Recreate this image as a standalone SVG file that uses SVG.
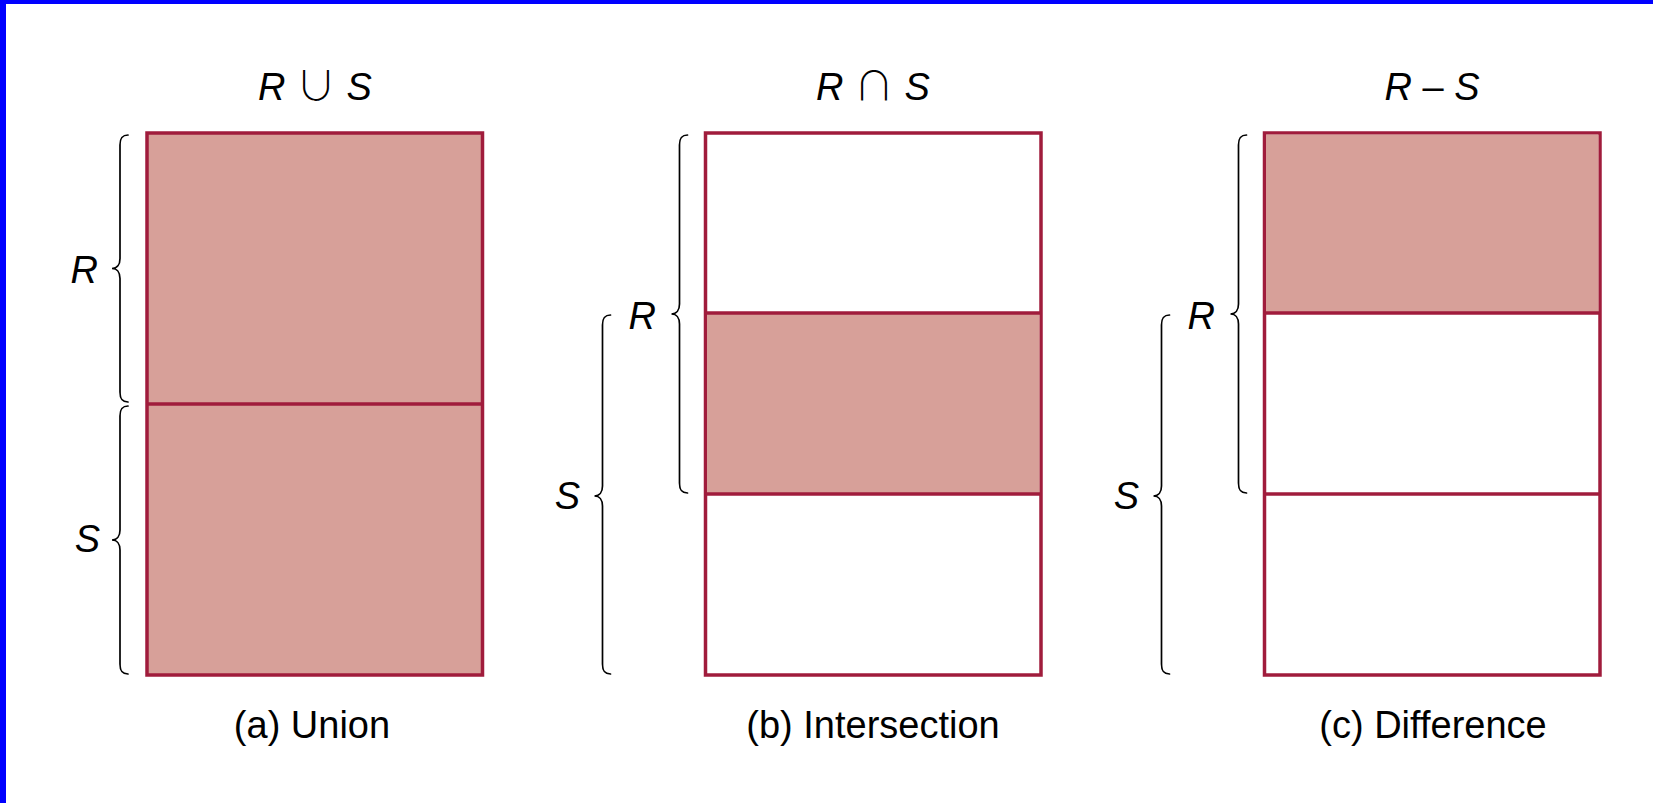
<svg xmlns="http://www.w3.org/2000/svg" width="1653" height="803" viewBox="0 0 1653 803">
<style>
.box{fill:#FFFFFF;stroke:#A01C3C;stroke-width:3.5}
.fill{fill:#D7A099}
.div{stroke:#A01C3C;stroke-width:3.5;fill:none}
.brace{fill:none;stroke:#000;stroke-width:1.7;stroke-linecap:round}
.lab{font-family:"Liberation Sans",Arial,sans-serif;font-size:38px;fill:#000}
.it{font-style:italic}
.op{font-family:"Noto Sans CJK JP","DejaVu Sans",sans-serif;font-size:40px;font-weight:300}
</style>
<rect x="0" y="0" width="1653" height="803" fill="#FFFFFF"/>
<rect x="0" y="0" width="1653" height="4" fill="#0000FF"/>
<rect x="0" y="0" width="6" height="803" fill="#0000FF"/>

<g id="union">
<rect class="box fill" x="147" y="133" width="335.5" height="542" style="fill:#D7A099"/>
<line class="div" x1="147" y1="404" x2="482.5" y2="404"/>
<text class="lab" x="315" y="100" text-anchor="middle"><tspan class="it">R</tspan> <tspan class="op">∪</tspan> <tspan class="it">S</tspan></text>
<text class="lab it" x="98" y="283" text-anchor="end">R</text>
<text class="lab it" x="100" y="552" text-anchor="end">S</text>
<text class="lab" x="312" y="738" text-anchor="middle">(a) Union</text>
</g>

<g id="intersection">
<rect class="box" x="705.5" y="133" width="335.5" height="542"/>
<rect x="707" y="313" width="332.5" height="181" style="fill:#D7A099"/>
<line class="div" x1="705.5" y1="313" x2="1041" y2="313"/>
<line class="div" x1="705.5" y1="494" x2="1041" y2="494"/>
<text class="lab" x="873" y="100" text-anchor="middle"><tspan class="it">R</tspan> <tspan class="op">∩</tspan> <tspan class="it">S</tspan></text>
<text class="lab it" x="656" y="329" text-anchor="end">R</text>
<text class="lab it" x="580" y="509" text-anchor="end">S</text>
<text class="lab" x="873" y="738" text-anchor="middle">(b) Intersection</text>
</g>

<g id="difference">
<rect class="box" x="1264.5" y="133" width="335.5" height="542"/>
<rect x="1266" y="134.5" width="332.5" height="178.5" style="fill:#D7A099"/>
<line class="div" x1="1264.5" y1="313" x2="1600" y2="313"/>
<line class="div" x1="1264.5" y1="494" x2="1600" y2="494"/>
<text class="lab" x="1432" y="100" text-anchor="middle"><tspan class="it">R</tspan> – <tspan class="it">S</tspan></text>
<text class="lab it" x="1215" y="329" text-anchor="end">R</text>
<text class="lab it" x="1139" y="509" text-anchor="end">S</text>
<text class="lab" x="1433" y="738" text-anchor="middle">(c) Difference</text>
</g>

<g id="connectors">
<path class="brace" d="M128,135 C122,135 120,138 120,145 L120,258.5 C120,264.5 117,268.5 112,268.5 C117,268.5 120,272.5 120,278.5 L120,392 C120,399 122,402 128,402"/>
<path class="brace" d="M128,406 C122,406 120,409 120,416 L120,530 C120,536 117,540 112,540 C117,540 120,544 120,550 L120,664 C120,671 122,674 128,674"/>
<path class="brace" d="M687.5,135 C681.5,135 679.5,138 679.5,145 L679.5,304 C679.5,310 676.5,314 671.5,314 C676.5,314 679.5,318 679.5,324 L679.5,483 C679.5,490 681.5,493 687.5,493"/>
<path class="brace" d="M610.5,315 C604.5,315 602.5,318 602.5,325 L602.5,486 C602.5,492 599.5,496 594.5,496 C599.5,496 602.5,500 602.5,506 L602.5,664 C602.5,671 604.5,674 610.5,674"/>
<path class="brace" d="M1246.5,135 C1240.5,135 1238.5,138 1238.5,145 L1238.5,304 C1238.5,310 1235.5,314 1230.5,314 C1235.5,314 1238.5,318 1238.5,324 L1238.5,483 C1238.5,490 1240.5,493 1246.5,493"/>
<path class="brace" d="M1169.5,315 C1163.5,315 1161.5,318 1161.5,325 L1161.5,486 C1161.5,492 1158.5,496 1153.5,496 C1158.5,496 1161.5,500 1161.5,506 L1161.5,664 C1161.5,671 1163.5,674 1169.5,674"/>
</g>
</svg>
